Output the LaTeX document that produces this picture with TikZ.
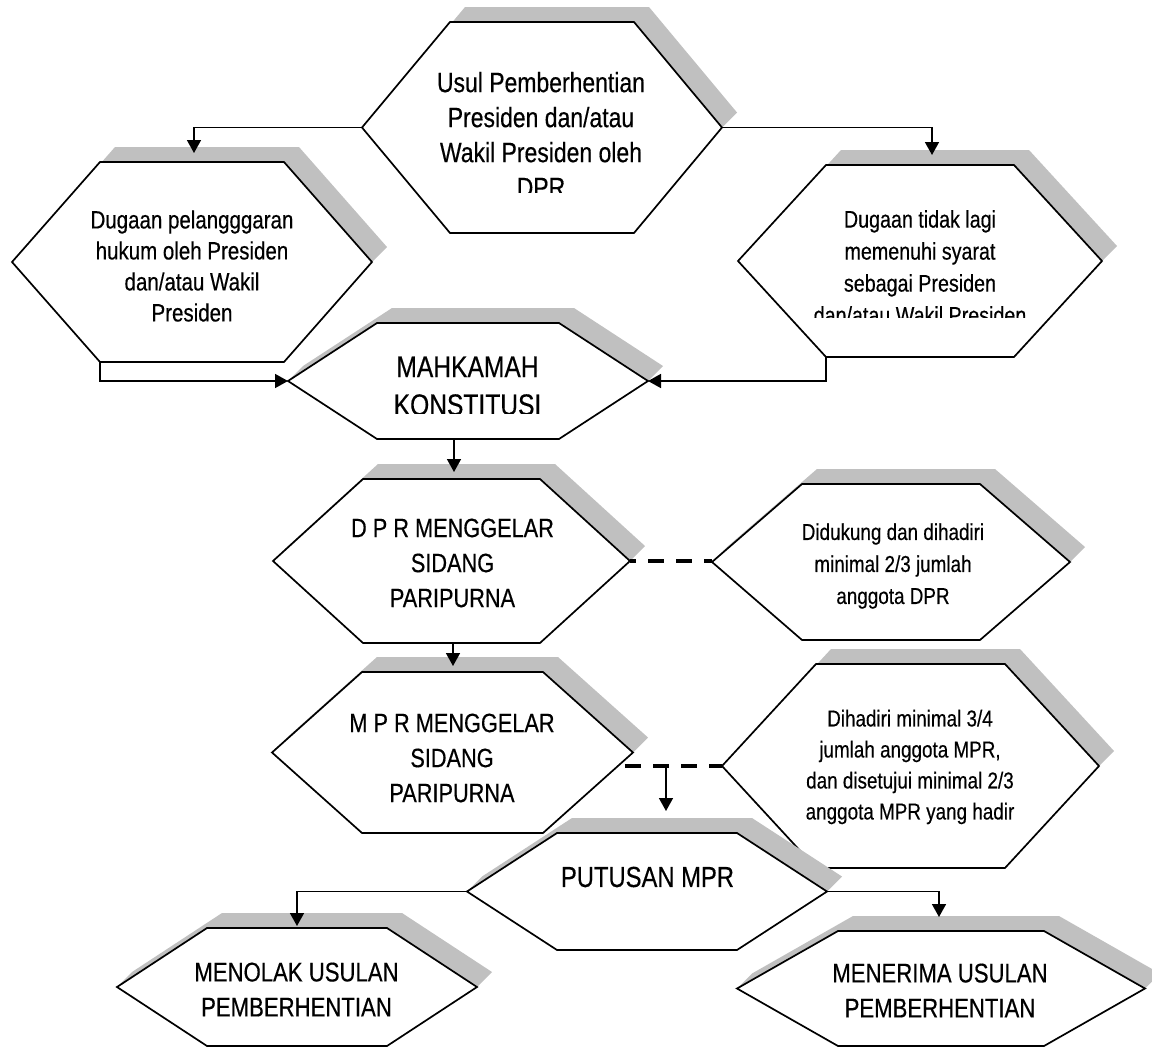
\documentclass[tikz,border=0pt]{standalone}
\usepackage{fontspec}
\setmainfont{Liberation Sans}[FakeStretch=0.82,FakeBold=0.4]
\usetikzlibrary{arrows.meta,calc}
\definecolor{shadowgray}{RGB}{192,192,192}
\newcommand\fs[2]{\fontsize{#1}{#2}\selectfont}
% name, cx, cy, half width, half height, inset
\newcommand\myhex[6]{%
  \coordinate (#1-L) at (#2-#4,#3);
  \coordinate (#1-R) at (#2+#4,#3);
  \coordinate (#1-TL) at (#2-#4+#6,#3-#5);
  \coordinate (#1-TR) at (#2+#4-#6,#3-#5);
  \coordinate (#1-BL) at (#2-#4+#6,#3+#5);
  \coordinate (#1-BR) at (#2+#4-#6,#3+#5);
  \fill[shadowgray] ([shift={(15,-15)}]#1-L) -- ([shift={(15,-15)}]#1-TL) -- ([shift={(15,-15)}]#1-TR) -- ([shift={(15,-15)}]#1-R) -- (#1-R) -- (#1-L) -- cycle;
  \filldraw[hexline] (#1-L) -- (#1-TL) -- (#1-TR) -- (#1-R) -- (#1-BR) -- (#1-BL) -- cycle;
}
\begin{document}
\begin{tikzpicture}[x=1pt,y=-1pt,
  hexline/.style={draw=black,fill=white,line width=1.7pt,line join=miter},
  txt/.style={align=center,inner sep=0pt},
  arr/.style={line width=1.6pt,-{Triangle[length=13pt,width=14pt]}},
  dsh/.style={line width=4pt,dash pattern=on 16pt off 12pt}]
\useasboundingbox (0,0) rectangle (1152,1047);

% hexagons
\myhex{A}{542}{127.5}{180}{105.5}{88}
\myhex{B}{192}{262}{180}{100}{88}
\myhex{C}{920}{261}{182}{96}{88}
\myhex{D}{468}{381}{180}{58}{89}
\myhex{E}{451.5}{561}{178.5}{82}{90}
\myhex{F}{891}{562}{179}{78}{90}
\myhex{G}{910.5}{766}{188.5}{102}{94}
\myhex{H}{452.5}{752.5}{180.5}{80.5}{90}
\myhex{I}{647}{891.5}{180}{58.5}{90}
\myhex{J}{297}{987}{180}{59}{90}
\myhex{K}{941}{988.5}{204}{57.5}{101}

% texts
\begin{scope}
  \clip (362,0) rectangle (722,192);
  \node[txt,font=\fs{28}{35}] (A) at (541,134.5) {Usul Pemberhentian\\Presiden dan/atau\\Wakil Presiden oleh\\DPR};
\end{scope}
\node[txt,font=\fs{25}{31}] (B) at (192,266) {Dugaan pelangggaran\\hukum oleh Presiden\\dan/atau Wakil\\Presiden};
\begin{scope}
  \clip (738,0) rectangle (1102,317);
  \node[txt,font=\fs{24}{32}] (C) at (920,267) {Dugaan tidak lagi\\memenuhi syarat\\sebagai Presiden\\dan/atau Wakil Presiden};
\end{scope}
\begin{scope}
  \clip (288,300) rectangle (648,413);
  \node[txt,font=\fs{30}{38}] (D) at (467.5,386) {MAHKAMAH\\KONSTITUSI};
\end{scope}
\node[txt,font=\fs{26.5}{35}] (E) at (452.5,563) {D P R MENGGELAR\\SIDANG\\PARIPURNA};
\node[txt,font=\fs{23}{32}] (F) at (893,566) {Didukung dan dihadiri\\minimal 2/3 jumlah\\anggota DPR};
\node[txt,font=\fs{23}{31}] (G) at (910,767) {Dihadiri minimal 3/4\\jumlah anggota MPR,\\dan disetujui minimal 2/3\\anggota MPR yang hadir};
\node[txt,font=\fs{26.5}{35}] (H) at (452,758) {M P R MENGGELAR\\SIDANG\\PARIPURNA};
\node[txt,font=\fs{29}{35}] (I) at (647.5,877) {PUTUSAN MPR};
\node[txt,font=\fs{27}{35}] (J) at (296.5,989.5) {MENOLAK USULAN\\PEMBERHENTIAN};
\node[txt,font=\fs{27}{35}] (K) at (940,990.5) {MENERIMA USULAN\\PEMBERHENTIAN};

% connector end points
\coordinate (B-in) at (194,153);
\coordinate (C-in) at (932,155);
\coordinate (E-in) at (454,472);
\coordinate (H-in) at (453,666);
\coordinate (I-in) at (666,811);
\coordinate (J-in) at (297,926);
\coordinate (K-in) at (939,917);
\coordinate (hg) at (625,766);

% connectors
\draw[arr] (A-L) -| (B-in);
\draw[arr] (A-R) -| (C-in);
\draw[arr] (B-BL) |- (D-L);
\draw[arr] (C-BL) |- (D-R);
\draw[arr] (E-in |- D-BL) -- (E-in);
\draw[arr] (H-in |- E-BL) -- (H-in);
\draw[dsh,dash phase=10pt] (E-R) -- (E-R -| F-L);
\draw[dsh] (hg) -- (G-L);
\draw[arr] (I-in |- G-L) -- (I-in);
\draw[arr] (I-L) -| (J-in);
\draw[arr] (I-R) -| (K-in);
\end{tikzpicture}
\end{document}
